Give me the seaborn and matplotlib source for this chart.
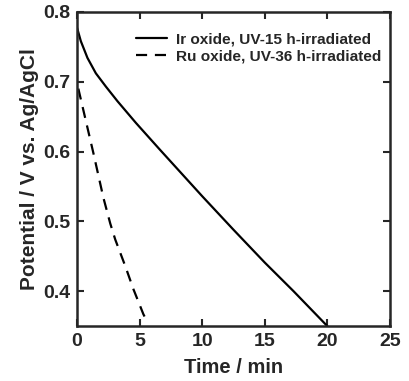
import numpy as np
import pandas as pd
import matplotlib
matplotlib.use("Agg")
import matplotlib.pyplot as plt
import seaborn as sns

sns.set_style("ticks")
plt.rcParams['font.family'] = ['Liberation Sans', 'DejaVu Sans']
plt.rcParams['font.weight'] = 'bold'

# values
ir_time = [0, 0.3, 0.83, 1.5, 2.3, 3.23, 4.7, 6.6, 10, 12.5, 15, 17.3, 20]
ir_pot = [0.777, 0.758, 0.734, 0.712, 0.693, 0.672, 0.641, 0.603,
          0.536, 0.488, 0.441, 0.40, 0.35]
ru_time = [0.1, 1.3, 2.1, 2.65, 3.05, 3.85, 4.5, 5.3, 5.5]
ru_pot = [0.69, 0.598, 0.534, 0.497, 0.474, 0.436, 0.403, 0.367, 0.36]
labels = ["Ir oxide, UV-15 h-irradiated", "Ru oxide, UV-36 h-irradiated"]

df = pd.concat([
    pd.DataFrame({"t": ir_time, "E": ir_pot, "sample": labels[0]}),
    pd.DataFrame({"t": ru_time, "E": ru_pot, "sample": labels[1]}),
])

fig = plt.figure(figsize=(4.1, 3.81), dpi=100)
ax = fig.add_axes([0.188, 0.144, 0.763, 0.825])
sns.lineplot(data=df, x="t", y="E", hue="sample", style="sample",
             palette=["black", "black"], dashes=[(None, None), (5, 3.5)],
             lw=1.6, sort=False, estimator=None, ax=ax)

ax.set_xlim(0, 25)
ax.set_ylim(0.35, 0.8)
ax.set_xticks([0, 5, 10, 15, 20, 25])
ax.set_yticks([0.4, 0.5, 0.6, 0.7, 0.8])
ax.set_yticklabels(["0.4", "0.5", "0.6", "0.7", "0.8"])
ax.tick_params(direction="in", length=5, width=1.5, labelsize=14,
               top=True, right=True, pad=5)
for lab in ax.get_xticklabels() + ax.get_yticklabels():
    lab.set_fontweight("bold")
for s in ax.spines.values():
    s.set_linewidth(1.8)
ax.set_xlabel("Time / min", fontsize=14.5, fontweight="bold", labelpad=6)
ax.set_ylabel("Potential / V vs. Ag/AgCl", fontsize=15, fontweight="bold", labelpad=3)

leg = ax.legend(frameon=False, loc="upper right", fontsize=11.1, handlelength=2.0,
                handletextpad=0.6, borderaxespad=0.3, labelspacing=0.2,
                bbox_to_anchor=(1.008, 0.97))
for t in leg.get_texts():
    t.set_fontweight("bold")

fig.savefig("out.png", dpi=100)
